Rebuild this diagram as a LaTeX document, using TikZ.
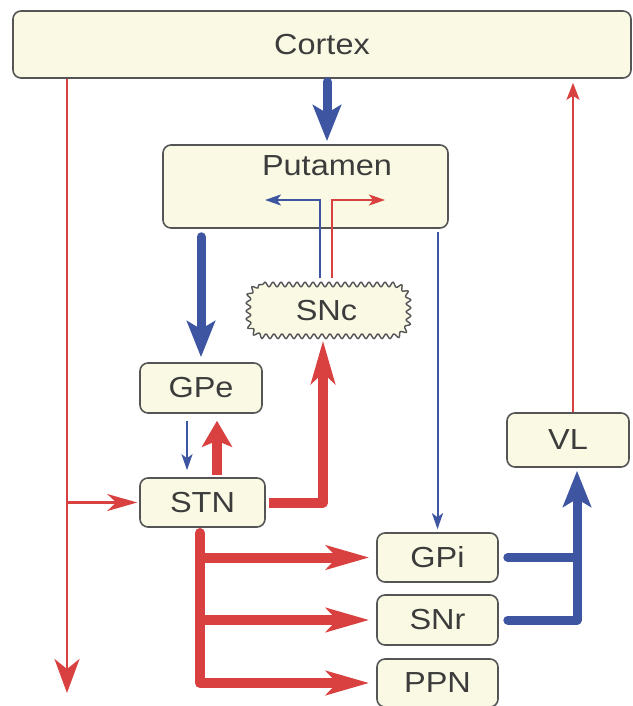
\documentclass[tikz,border=0pt]{standalone}
\usepackage{fontspec}
\setmainfont{Liberation Sans}[FakeStretch=1.12]
\usetikzlibrary{arrows.meta,decorations.pathmorphing,calc}
\definecolor{nred}{HTML}{D8413F}
\definecolor{nblue}{HTML}{3E56A2}
\definecolor{boxfill}{HTML}{FAFAE4}
\definecolor{boxline}{HTML}{555555}
\definecolor{ink}{HTML}{3C3C3C}

\begin{document}
\begin{tikzpicture}[x=1pt,y=-1pt,
  region/.style={draw=boxline, line width=1.6pt, fill=boxfill, rounded corners=8pt,
    text=ink, font=\fontsize{29}{34}\selectfont, inner sep=0pt},
  lbl/.style={text=ink, font=\fontsize{29}{34}\selectfont, inner sep=0pt},
  wavy/.style={draw=boxline, line width=1.4pt, fill=boxfill,
    decorate, decoration={snake, segment length=8pt, amplitude=2.3pt}},
  redthick/.style={draw=nred, line width=10pt, line join=round, line cap=round},
  bluethick/.style={draw=nblue, line width=9pt, line join=round, line cap=round},
  redthin/.style={draw=nred, line width=2.5pt},
  bluethin/.style={draw=nblue, line width=2pt},
  bighead/.style={-{Stealth[length=43pt,width=24pt,inset=11pt]}},
  bluehead/.style={-{Stealth[length=36pt,width=28pt,inset=8pt]}},
  shorthead/.style={-{Stealth[length=26pt,width=30pt,inset=6pt]}},
  longhead/.style={-{Stealth[length=34pt,width=25pt,inset=10pt]}},
  sidehead/.style={-{Stealth[length=30pt,width=17pt,inset=9pt]}},
  smallhead/.style={-{Stealth[length=16pt,width=11pt,inset=4pt]}},
]
\useasboundingbox (0,0) rectangle (632,706);
\clip (0,0) rectangle (632,706);
\fill[white] (0,0) rectangle (632,706);

% wavy outline of the substantia nigra pars compacta
\path[wavy] (262.5,284.5) -- (390.5,284.5)
  .. controls (399.3,284.5) and (406.5,291.7) .. (406.5,300.5) -- (406.5,320.5)
  .. controls (406.5,329.3) and (399.3,336.5) .. (390.5,336.5) -- (262.5,336.5)
  .. controls (253.7,336.5) and (246.5,329.3) .. (246.5,320.5) -- (246.5,300.5)
  .. controls (246.5,291.7) and (253.7,284.5) .. (262.5,284.5) -- cycle;

% regions
\node[region, minimum width=618pt, minimum height=67pt] (cortex) at (322,44.5) {Cortex};
\node[region, minimum width=285pt, minimum height=83pt] (putamen) at (305.5,186.5) {};
\node[lbl] (putlab) at (327,166) {Putamen};
\node[lbl, minimum width=160pt, minimum height=52pt] (snc) at (326.5,310.5) {SNc};
\node[region, minimum width=122pt, minimum height=50pt] (gpe) at (201,388) {GPe};
\node[region, minimum width=125pt, minimum height=49pt] (stn) at (202.5,502.5) {STN};
\node[region, minimum width=121pt, minimum height=49pt] (gpi) at (437.5,557.5) {GPi};
\node[region, minimum width=121pt, minimum height=50pt] (snr) at (437.5,620) {SNr};
\node[region, minimum width=121pt, minimum height=48pt] (ppn) at (437.5,683) {PPN};
\node[region, minimum width=122pt, minimum height=54pt] (vl) at (568,440) {VL};

% free ends
\coordinate (lefttip) at (67,693);
\coordinate (dabl) at (265,200);
\coordinate (dared) at (385,200);
\coordinate (trunk) at (200,527);

% cortex to putamen
\draw[bluethick, bluehead, shorten <=3pt, shorten >=3pt] (cortex.south -| putlab) -- (putamen.north -| putlab);

% cortex descending to brainstem, with branch to STN
\draw[redthin, longhead] (cortex.south -| lefttip) -- (lefttip);
\draw[redthin, sidehead, shorten >=2pt] (lefttip |- stn.west) -- (stn.west);

% putamen outputs
\draw[bluethick, bluehead, shorten <=8pt, shorten >=5pt] (putamen.south -| gpe) -- (gpe.north);
\draw[bluethin, smallhead, shorten <=3pt, shorten >=3pt] (putamen.south -| gpi) -- (gpi.north);

% nigrostriatal projections
\draw[bluethin, smallhead, shorten <=6pt] ([xshift=-6.5pt]snc.north) |- (dabl);
\draw[redthin, smallhead, shorten <=6pt] ([xshift=5.5pt]snc.north) |- (dared);

% GPe <-> STN
\draw[bluethin, smallhead, shorten <=7pt, shorten >=7pt] ([xshift=-14pt]gpe.south) -- ([xshift=-14pt]gpe.south |- stn.north);
\draw[redthick, shorthead, line cap=butt, shorten <=2pt, shorten >=7pt] ([xshift=16pt]gpe.south |- stn.north) -- ([xshift=16pt]gpe.south);

% STN to SNc
\draw[redthick, bighead, line cap=butt, shorten <=3pt, shorten >=4pt] (stn.east) -| ([xshift=-3.5pt]snc.south);

% STN to output nuclei
\draw[redthick, bighead, shorten <=6pt, shorten >=7pt] (trunk) |- (ppn.west);
\draw[redthick, bighead, line cap=butt, shorten >=7pt] (trunk |- gpi.west) -- (gpi.west);
\draw[redthick, bighead, line cap=butt, shorten >=7pt] (trunk |- snr.west) -- (snr.west);

% GPi / SNr to VL
\draw[bluethick, shorten <=9pt] (gpi.east) -- ([xshift=9pt]vl.south |- gpi.east);
\draw[bluethick, bluehead, shorten <=9pt, shorten >=3pt] (snr.east) -| ([xshift=9pt]vl.south);

% VL to cortex
\draw[redthin, -{Stealth[length=17pt,width=13pt,inset=4pt]}, shorten >=4pt] ([xshift=5pt]vl.north) -- ([xshift=5pt]vl.north |- cortex.south);
\end{tikzpicture}
\end{document}
